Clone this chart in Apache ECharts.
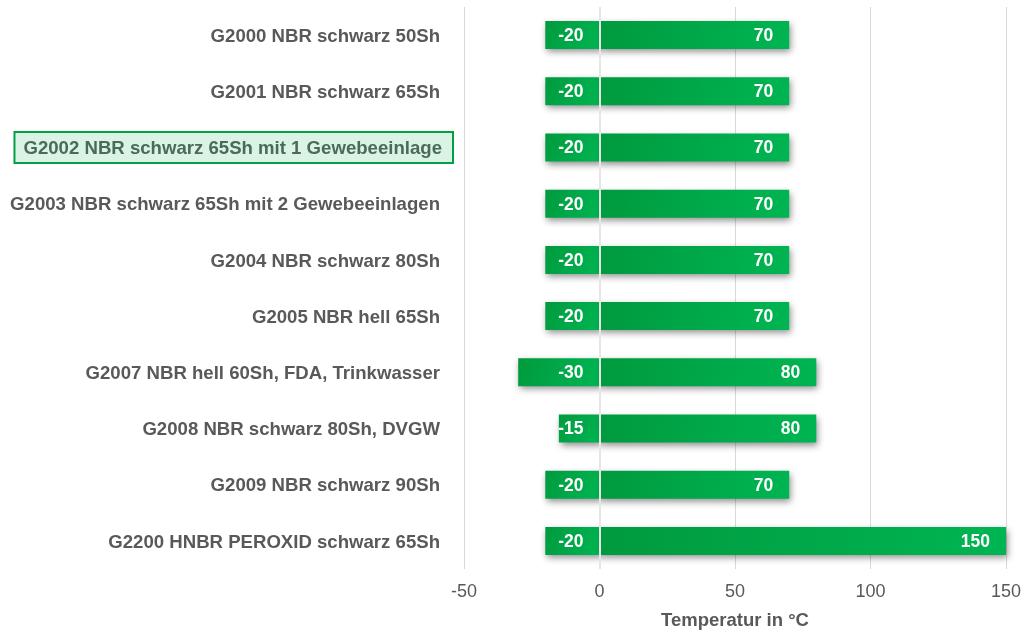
<!DOCTYPE html>
<html>
<head>
<meta charset="utf-8">
<script src="https://cdn.jsdelivr.net/npm/echarts@6/dist/echarts.min.js"></script>
<style>
  html, body { margin: 0; padding: 0; background: #fff; }
  #chart { width: 1023px; height: 631px; }
</style>
</head>
<body>
<div id="chart"></div>
<script>
// Werkstoffe (Kategorien), von oben nach unten
var categories = [
  'G2000 NBR schwarz 50Sh',
  'G2001 NBR schwarz 65Sh',
  'G2002 NBR schwarz 65Sh mit 1 Gewebeeinlage',
  'G2003 NBR schwarz 65Sh mit 2 Gewebeeinlagen',
  'G2004 NBR schwarz 80Sh',
  'G2005 NBR hell 65Sh',
  'G2007 NBR hell 60Sh, FDA, Trinkwasser',
  'G2008 NBR schwarz 80Sh, DVGW',
  'G2009 NBR schwarz 90Sh',
  'G2200 HNBR PEROXID schwarz 65Sh'
];
// min. / max. Temperatur in °C
var minTemp = [-20, -20, -20, -20, -20, -20, -30, -15, -20, -20];
var maxTemp = [70, 70, 70, 70, 70, 70, 80, 80, 70, 150];
var highlighted = 'G2002 NBR schwarz 65Sh mit 1 Gewebeeinlage';

var font = 'Liberation Sans, Arial, sans-serif';
var barColor = new echarts.graphic.LinearGradient(0, 0, 1, 1, [
  { offset: 0, color: '#009a3e' },
  { offset: 1, color: '#00b552' }
]);
var barStyle = {
  color: barColor,
  shadowColor: 'rgba(0,0,0,0.45)',
  shadowBlur: 7,
  shadowOffsetX: 2,
  shadowOffsetY: 3
};
var barLabel = {
  show: true,
  position: 'insideRight',
  distance: 16,
  offset: [0, 1],
  color: '#fff',
  fontFamily: font,
  fontWeight: 'bold',
  fontSize: 17.5
};

var myChart = echarts.init(document.getElementById('chart'));
myChart.setOption({
  animation: false,
  grid: { left: 464, right: 17, top: 7, bottom: 62, outerBoundsMode: 'none' },
  xAxis: {
    type: 'value',
    min: -50,
    max: 150,
    interval: 50,
    name: 'Temperatur in °C',
    nameLocation: 'middle',
    nameGap: 42,
    nameTextStyle: { color: '#595959', fontFamily: font, fontWeight: 'bold', fontSize: 18.5 },
    axisLine: { show: false },
    axisTick: { show: false },
    axisLabel: { color: '#595959', fontFamily: font, fontSize: 18, margin: 14 },
    splitLine: { lineStyle: { color: '#d9d9d9', width: 1 } }
  },
  yAxis: {
    type: 'category',
    inverse: true,
    data: categories,
    axisLine: { show: false },
    axisTick: { show: false },
    axisLabel: {
      margin: 12,
      formatter: function (v) {
        return v === highlighted ? '{hl|' + v + '}' : '{n|' + v + '}';
      },
      rich: {
        n: {
          color: '#595959',
          fontFamily: font,
          fontWeight: 'bold',
          fontSize: 18.6,
          padding: [3, 12, 0, 0]
        },
        hl: {
          color: '#4a6b57',
          fontFamily: font,
          fontWeight: 'bold',
          fontSize: 18.6,
          backgroundColor: '#daf3e4',
          borderColor: '#00a047',
          borderWidth: 2,
          padding: [6, 10, 4, 8]
        }
      }
    }
  },
  series: [
    {
      name: 'min',
      type: 'bar',
      data: minTemp,
      barWidth: 28,
      barGap: '-100%',
      itemStyle: barStyle,
      label: barLabel
    },
    {
      name: 'max',
      type: 'bar',
      data: maxTemp,
      barWidth: 28,
      itemStyle: barStyle,
      label: barLabel,
      markLine: {
        silent: true,
        symbol: 'none',
        label: { show: false },
        lineStyle: { color: '#e6e6e6', width: 2, type: 'solid' },
        data: [{ xAxis: 0 }]
      }
    }
  ]
});
</script>
</body>
</html>
